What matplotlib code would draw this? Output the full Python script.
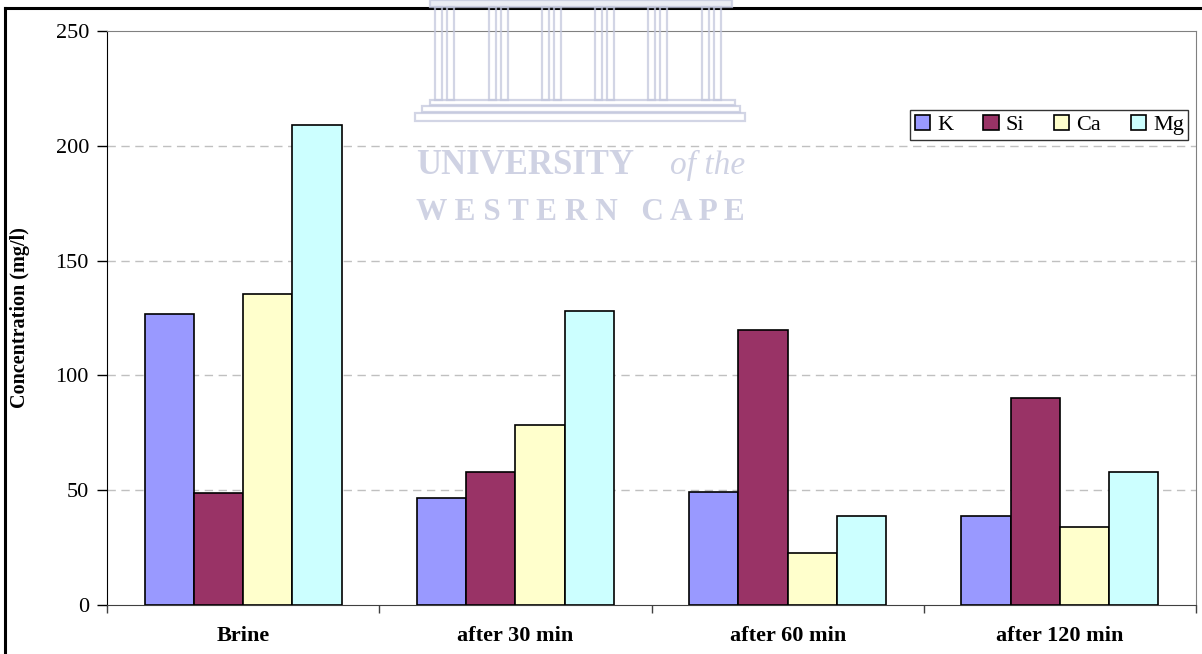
"""Grouped bar chart of ion concentrations in brine over treatment time."""

import matplotlib.pyplot as plt
import numpy as np
from matplotlib.lines import Line2D
from matplotlib.patches import Rectangle

plt.rcParams["font.family"] = ["Liberation Serif", "DejaVu Serif"]

categories = ["Brine", "after 30 min", "after 60 min", "after 120 min"]
species = ["K", "Si", "Ca", "Mg"]
k_vals = [126.7, 46.6, 49.3, 38.8]
si_vals = [48.8, 57.9, 119.8, 90.0]
ca_vals = [135.5, 78.4, 22.5, 34.0]
mg_vals = [209.0, 128.0, 38.8, 57.9]
colors = ["#9999FF", "#993366", "#FFFFCC", "#CCFFFF"]
y_ticks = [0, 50, 100, 150, 200, 250]

W, H = 1202, 654
fig = plt.figure(figsize=(W / 100, H / 100), dpi=100)
ax = fig.add_axes([107 / W, 1 - 605 / H, (1196 - 107) / W, (605 - 31) / H])

x = np.arange(len(categories))
width = 0.181
series = [k_vals, si_vals, ca_vals, mg_vals]
for i, (name, vals, c) in enumerate(zip(species, series, colors)):
    ax.bar(x + (i - 1.5) * width, vals, width, color=c, edgecolor="black",
           linewidth=1.2, label=name, zorder=3)

ax.set_xlim(-0.5, len(categories) - 0.5)
ax.set_ylim(0, 250)
ax.set_yticks(y_ticks)
ax.set_yticklabels([str(v) for v in y_ticks], fontsize=16)
for v in y_ticks[1:-1]:
    ax.axhline(v, color="#c0c0c0", linestyle=(0, (6, 4)), linewidth=1, zorder=1)

ax.set_xticks(x)
ax.set_xticklabels(categories, fontsize=16, fontweight="bold")
ax.tick_params(axis="x", length=0, pad=15)
ax.set_xticks(np.arange(len(categories) + 1) - 0.5, minor=True)
ax.tick_params(axis="x", which="minor", length=6, width=1, color="#404040")
ax.tick_params(axis="y", length=7, width=1, pad=6)

for side in ["top", "right"]:
    ax.spines[side].set_color("#808080")
ax.spines["left"].set_color("black")
ax.spines["bottom"].set_color("#404040")

ax.set_ylabel("Concentration (mg/l)", fontsize=14.5, fontweight="bold")
ax.yaxis.set_label_coords(-0.071, 0.5)

leg = ax.legend(ncol=4, loc="upper right", bbox_to_anchor=(0.993, 0.862),
                fontsize=16, frameon=True, fancybox=False, borderpad=0.2,
                handlelength=0.7, handleheight=0.7, handletextpad=0.3,
                columnspacing=1.35, borderaxespad=0)
leg.get_frame().set_edgecolor("black")
leg.get_frame().set_linewidth(1)

# page frame around the chart
fig.add_artist(Line2D([5 / W, 5 / W], [0, 1 - 8 / H], color="black", linewidth=2.2))
fig.add_artist(Line2D([5 / W, 1], [1 - 8 / H, 1 - 8 / H], color="black", linewidth=2.2))

# faint university watermark
wm = "#c3c7dd"


def px_rect(x0, y0, x1, y1, fill=False):
    fig.add_artist(Rectangle((x0 / W, 1 - y1 / H), (x1 - x0) / W, (y1 - y0) / H,
                             transform=fig.transFigure,
                             facecolor="#e4e6f0" if fill else "none",
                             edgecolor=wm, linewidth=1.6, alpha=0.75, zorder=10))


px_rect(430, 0, 732, 7, fill=True)
for cx in [446, 500, 553, 606, 659, 713]:
    px_rect(cx - 11, 7, cx - 4, 100)
    px_rect(cx + 1, 7, cx + 8, 100)
px_rect(430, 100, 735, 105)
px_rect(422, 106, 740, 112)
px_rect(415, 113, 745, 121)

fig.text(416 / W, 1 - 174 / H, "UNIVERSITY", fontsize=25, color=wm, alpha=0.8,
         fontweight="bold", ha="left", va="baseline", zorder=10)
fig.text(745 / W, 1 - 174 / H, "of the", fontsize=24, color=wm, alpha=0.8,
         style="italic", ha="right", va="baseline", zorder=10)
fig.text(580 / W, 1 - 220 / H, "W E S T E R N   C A P E", fontsize=22.5, color=wm,
         alpha=0.8, fontweight="bold", ha="center", va="baseline", zorder=10)

fig.savefig("out.png", dpi=100)
